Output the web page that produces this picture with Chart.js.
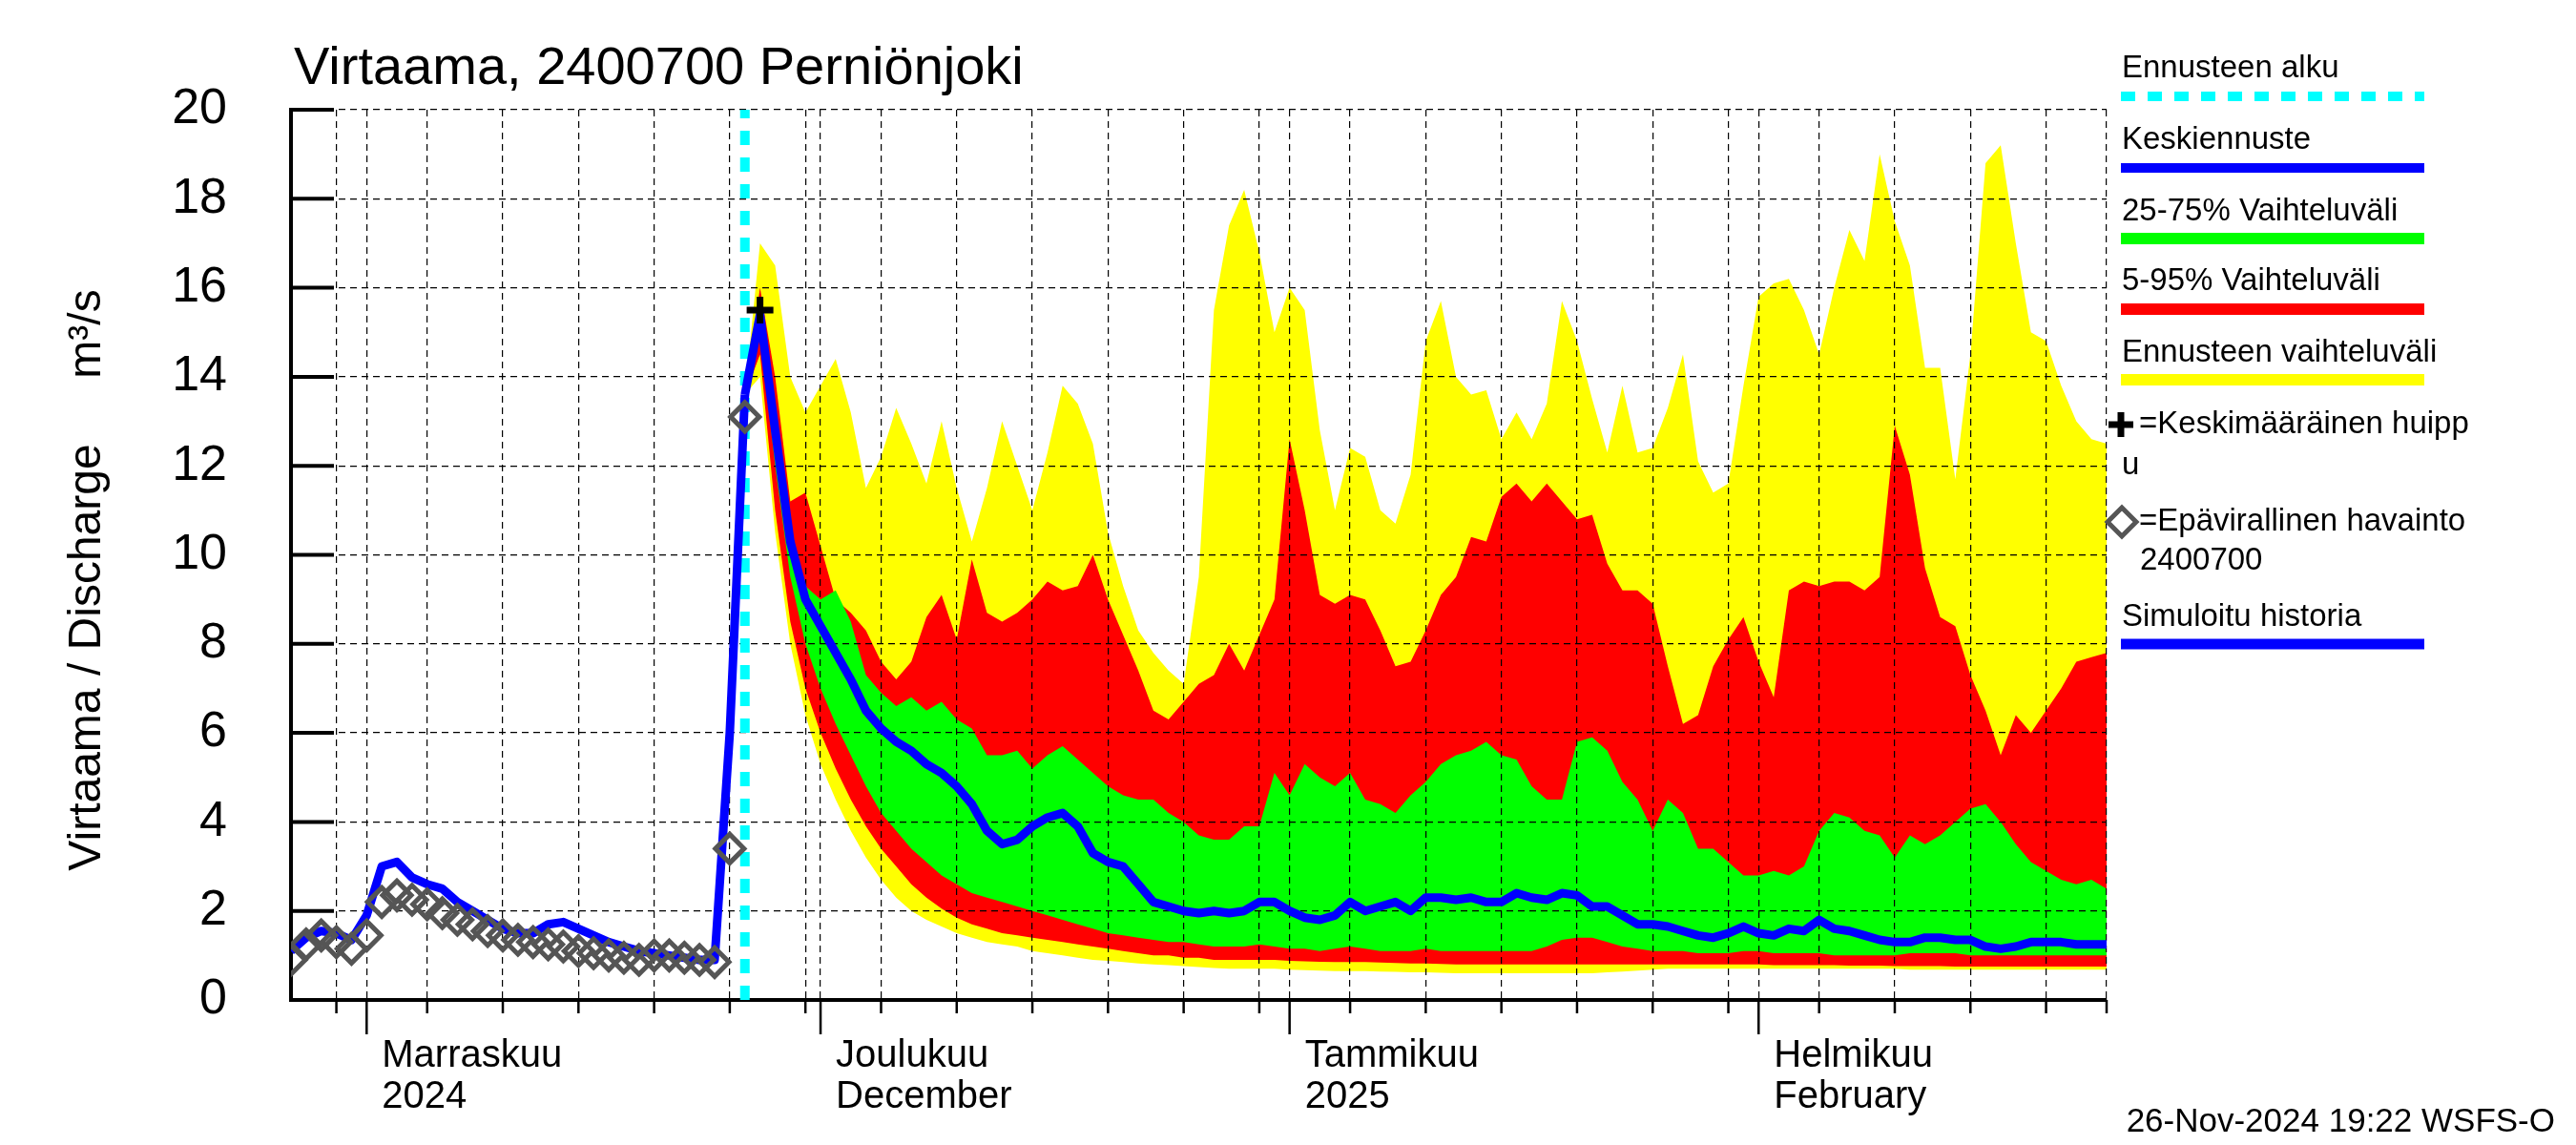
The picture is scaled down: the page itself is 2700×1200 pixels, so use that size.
<!DOCTYPE html>
<html>
<head>
<meta charset="utf-8">
<script src="https://cdn.jsdelivr.net/npm/chart.js@4.4.1/dist/chart.umd.min.js"></script>
<style>
  html, body { margin: 0; padding: 0; background: #fff; }
  canvas { display: block; }
</style>
</head>
<body>
<canvas id="flowChart" width="2700" height="1200"></canvas>
<script>
// --- data (m3/s, one value per day) ---
const histStart = '2024-10-27';
const histValues = [1.1, 1.4, 1.55, 1.5, 1.35, 1.9, 3.0, 3.1, 2.75, 2.6, 2.5, 2.2, 2.0, 1.8, 1.6, 1.5,
  1.5, 1.7, 1.75, 1.6, 1.45, 1.3, 1.2, 1.1, 1.05, 1.0, 0.95, 0.9, 0.9, 6.0, 13.6];
const obsValues = [0.9, 1.25, 1.45, 1.3, 1.15, 1.45, 2.2, 2.35, 2.25, 2.15, 1.95, 1.8, 1.7, 1.55, 1.45, 1.35,
  1.3, 1.25, 1.2, 1.1, 1.05, 1.0, 0.95, 0.9, 1.0, 1.0, 0.95, 0.9, 0.85, 3.4, 13.1];

const fcStart = '2024-11-26';
const fcMean = [13.6,
  15.4, 12.8, 10.3, 9.0, 8.4, 7.8, 7.2, 6.5, 6.1, 5.8,
  5.6, 5.3, 5.1, 4.8, 4.4, 3.8, 3.5, 3.6, 3.9, 4.1,
  4.2, 3.9, 3.3, 3.1, 3.0, 2.6, 2.2, 2.1, 2.0, 1.95,
  2.0, 1.95, 2.0, 2.2, 2.2, 2.0, 1.85, 1.8, 1.9, 2.2,
  2.0, 2.1, 2.2, 2.0, 2.3, 2.3, 2.25, 2.3, 2.2, 2.2,
  2.4, 2.3, 2.25, 2.4, 2.35, 2.1, 2.1, 1.9, 1.7, 1.7,
  1.65, 1.55, 1.45, 1.4, 1.5, 1.65, 1.5, 1.45, 1.6, 1.55,
  1.8, 1.6, 1.55, 1.45, 1.35, 1.3, 1.3, 1.4, 1.4, 1.35,
  1.35, 1.2, 1.15, 1.2, 1.3, 1.3, 1.3, 1.25, 1.25, 1.25];
const fcMax = [13.6,
  17.0, 16.5, 14.0, 13.2, 13.8, 14.4, 13.2, 11.5, 12.2, 13.3,
  12.5, 11.6, 13.0, 11.5, 10.3, 11.5, 13.0, 12.0, 11.0, 12.3,
  13.8, 13.4, 12.5, 10.5, 9.3, 8.3, 7.8, 7.4, 7.1, 9.5,
  15.5, 17.4, 18.2, 16.8, 15.0, 16.0, 15.5, 12.8, 11.0, 12.4,
  12.2, 11.0, 10.7, 11.8, 14.8, 15.7, 14.0, 13.6, 13.7, 12.6,
  13.2, 12.6, 13.4, 15.7, 14.8, 13.5, 12.3, 13.8, 12.3, 12.4,
  13.3, 14.5, 12.1, 11.4, 11.6, 13.8, 15.8, 16.1, 16.2, 15.5,
  14.5, 16.0, 17.3, 16.6, 19.0, 17.5, 16.5, 14.2, 14.2, 11.7,
  14.5, 18.8, 19.2, 17.0, 15.0, 14.8, 13.8, 13.0, 12.6, 12.5];
const fc95 = [13.6,
  16.0, 14.0, 11.2, 11.4, 10.2, 9.0, 8.7, 8.3, 7.6, 7.2,
  7.6, 8.6, 9.1, 8.1, 9.9, 8.7, 8.5, 8.7, 9.0, 9.4,
  9.2, 9.3, 10.0, 9.0, 8.2, 7.4, 6.5, 6.3, 6.7, 7.1,
  7.3, 8.0, 7.4, 8.2, 9.0, 12.6, 11.0, 9.1, 8.9, 9.1,
  9.0, 8.3, 7.5, 7.6, 8.3, 9.1, 9.5, 10.4, 10.3, 11.3,
  11.6, 11.2, 11.6, 11.2, 10.8, 10.9, 9.8, 9.2, 9.2, 8.9,
  7.5, 6.2, 6.4, 7.5, 8.1, 8.6, 7.6, 6.8, 9.2, 9.4,
  9.3, 9.4, 9.4, 9.2, 9.5, 12.9, 11.8, 9.7, 8.6, 8.4,
  7.3, 6.5, 5.5, 6.4, 6.0, 6.5, 7.0, 7.6, 7.7, 7.8];
const fc75 = [13.6,
  15.6, 12.5, 10.0, 9.3, 9.0, 9.2, 8.5, 7.3, 6.9, 6.6,
  6.8, 6.5, 6.7, 6.3, 6.1, 5.5, 5.5, 5.6, 5.2, 5.5,
  5.7, 5.4, 5.1, 4.8, 4.6, 4.5, 4.5, 4.2, 4.0, 3.7,
  3.6, 3.6, 3.9, 3.9, 5.1, 4.6, 5.3, 5.0, 4.8, 5.1,
  4.5, 4.4, 4.2, 4.6, 4.9, 5.3, 5.5, 5.6, 5.8, 5.5,
  5.4, 4.8, 4.5, 4.5, 5.8, 5.9, 5.6, 4.9, 4.5, 3.8,
  4.5, 4.2, 3.4, 3.4, 3.1, 2.8, 2.8, 2.9, 2.8, 3.0,
  3.8, 4.2, 4.1, 3.8, 3.7, 3.2, 3.7, 3.5, 3.7, 4.0,
  4.3, 4.4, 4.0, 3.5, 3.1, 2.9, 2.7, 2.6, 2.7, 2.5];
const fc25 = [13.6,
  15.0, 12.0, 9.5, 8.0, 7.0, 6.2, 5.5, 4.8, 4.2, 3.8,
  3.4, 3.1, 2.8, 2.6, 2.4, 2.3, 2.2, 2.1, 2.0, 1.9,
  1.8, 1.7, 1.6, 1.5, 1.45, 1.4, 1.35, 1.3, 1.3, 1.25,
  1.2, 1.2, 1.2, 1.25, 1.2, 1.15, 1.15, 1.1, 1.15, 1.2,
  1.15, 1.1, 1.1, 1.1, 1.15, 1.1, 1.1, 1.1, 1.1, 1.1,
  1.1, 1.1, 1.2, 1.35, 1.4, 1.4, 1.3, 1.2, 1.15, 1.1,
  1.1, 1.1, 1.05, 1.05, 1.05, 1.1, 1.1, 1.05, 1.05, 1.05,
  1.05, 1.0, 1.0, 1.0, 1.0, 1.0, 1.05, 1.05, 1.05, 1.05,
  1.0, 1.0, 1.0, 1.0, 1.0, 1.0, 1.0, 1.0, 1.0, 1.0];
const fc05 = [13.6,
  14.5, 11.0, 8.5, 7.0, 6.0, 5.2, 4.5, 3.9, 3.4, 3.0,
  2.6, 2.3, 2.05, 1.85, 1.7, 1.6, 1.5, 1.45, 1.4, 1.35,
  1.3, 1.25, 1.2, 1.15, 1.1, 1.05, 1.0, 1.0, 0.95, 0.95,
  0.9, 0.9, 0.9, 0.9, 0.9, 0.88, 0.87, 0.86, 0.85, 0.85,
  0.85, 0.84, 0.83, 0.82, 0.82, 0.81, 0.8, 0.8, 0.8, 0.8,
  0.8, 0.8, 0.8, 0.8, 0.8, 0.8, 0.8, 0.8, 0.8, 0.8,
  0.8, 0.8, 0.8, 0.8, 0.8, 0.8, 0.8, 0.78, 0.78, 0.78,
  0.78, 0.78, 0.77, 0.77, 0.77, 0.76, 0.76, 0.76, 0.76, 0.75,
  0.75, 0.75, 0.75, 0.75, 0.75, 0.75, 0.75, 0.75, 0.75, 0.75];
const fcMin = [13.6,
  14.0, 10.5, 8.0, 6.4, 5.3, 4.5, 3.8, 3.2, 2.7, 2.3,
  2.0, 1.8, 1.65, 1.5, 1.4, 1.3, 1.25, 1.2, 1.1, 1.05,
  1.0, 0.95, 0.9, 0.88, 0.85, 0.82, 0.8, 0.78, 0.76, 0.74,
  0.72, 0.7, 0.7, 0.7, 0.7, 0.68, 0.67, 0.66, 0.65, 0.65,
  0.65, 0.64, 0.63, 0.62, 0.62, 0.61, 0.6, 0.6, 0.6, 0.6,
  0.6, 0.6, 0.6, 0.6, 0.6, 0.6, 0.62, 0.64, 0.66, 0.68,
  0.7, 0.7, 0.7, 0.7, 0.7, 0.7, 0.7, 0.7, 0.7, 0.7,
  0.7, 0.7, 0.7, 0.7, 0.7, 0.7, 0.68, 0.68, 0.68, 0.68,
  0.68, 0.68, 0.68, 0.68, 0.68, 0.68, 0.68, 0.68, 0.68, 0.68];

const peakDate = '2024-11-27';
const peakValue = 15.5;

// x axis: dates, y axis: 0..20 step 2
const axisStart = '2024-10-27';
const axisEnd = '2025-02-24';
const gridDates = ['2024-10-30', '2024-11-01', '2024-11-05', '2024-11-10', '2024-11-15', '2024-11-20',
  '2024-11-25', '2024-11-30', '2024-12-01', '2024-12-05', '2024-12-10', '2024-12-15', '2024-12-20',
  '2024-12-25', '2024-12-30', '2025-01-01', '2025-01-05', '2025-01-10', '2025-01-15', '2025-01-20',
  '2025-01-25', '2025-01-30', '2025-02-01', '2025-02-05', '2025-02-10', '2025-02-15', '2025-02-20',
  '2025-02-24'];
const monthDates = ['2024-11-01', '2024-12-01', '2025-01-01', '2025-02-01'];
const monthLabels = [['Marraskuu', '2024'], ['Joulukuu', 'December'], ['Tammikuu', '2025'], ['Helmikuu', 'February']];

const FONT = '"Liberation Sans", Arial, sans-serif';
Chart.defaults.font.family = FONT;

function dayOf(s) {
  return (Date.parse(s + 'T00:00:00Z') - Date.parse('2024-11-01T00:00:00Z')) / 86400000;
}
function series(start, values) {
  const d0 = dayOf(start);
  return values.map((v, i) => ({ x: d0 + i, y: v }));
}

const gridDays = gridDates.map(dayOf);
const monthDays = monthDates.map(dayOf);
const fcDay = dayOf(fcStart);

function band(values, color, fill, order) {
  return {
    data: series(fcStart, values),
    borderWidth: 0,
    borderColor: 'rgba(0,0,0,0)',
    backgroundColor: color,
    pointRadius: 0,
    fill: fill,
    order: order
  };
}

const decorations = {
  id: 'decorations',
  afterDraw(chart) {
    const ctx = chart.ctx;
    const xs = chart.scales.x;
    const ys = chart.scales.y;
    const area = chart.chartArea;
    ctx.save();

    // inner y ticks
    ctx.strokeStyle = '#000';
    ctx.lineWidth = 4;
    ys.ticks.forEach(t => {
      const y = ys.getPixelForValue(t.value);
      ctx.beginPath();
      ctx.moveTo(area.left, y);
      ctx.lineTo(area.left + 45, y);
      ctx.stroke();
    });

    // x ticks below the axis
    ctx.lineWidth = 2.5;
    gridDays.forEach(d => {
      const x = xs.getPixelForValue(d);
      const len = monthDays.includes(d) ? 36 : 14;
      ctx.beginPath();
      ctx.moveTo(x, area.bottom);
      ctx.lineTo(x, area.bottom + len);
      ctx.stroke();
    });

    ctx.fillStyle = '#000';
    ctx.textBaseline = 'middle';
    ctx.textAlign = 'left';

    // month labels
    ctx.font = '40px ' + FONT;
    monthDays.forEach((d, i) => {
      const x = xs.getPixelForValue(d) + 16;
      ctx.fillText(monthLabels[i][0], x, 1107);
      ctx.fillText(monthLabels[i][1], x, 1150);
    });

    // title
    ctx.font = '56px ' + FONT;
    ctx.textBaseline = 'alphabetic';
    ctx.fillText('Virtaama, 2400700 Perniönjoki', 308, 88);

    // y axis title
    ctx.font = '48px ' + FONT;
    ctx.textBaseline = 'middle';
    ctx.textAlign = 'center';
    [['Virtaama / Discharge', 689], ['m³/s', 350]].forEach(([txt, yc]) => {
      ctx.save();
      ctx.translate(92, yc);
      ctx.rotate(-Math.PI / 2);
      ctx.fillText(txt, 0, 0);
      ctx.restore();
    });

    // legend
    const lx0 = 2223, lx1 = 2541;
    ctx.textAlign = 'left';
    ctx.font = '33px ' + FONT;
    const legendLine = (y, color, width, dash) => {
      ctx.save();
      ctx.strokeStyle = color;
      ctx.lineWidth = width;
      ctx.setLineDash(dash || []);
      ctx.beginPath();
      ctx.moveTo(lx0, y);
      ctx.lineTo(lx1, y);
      ctx.stroke();
      ctx.restore();
    };
    ctx.fillText('Ennusteen alku', 2224, 72);
    legendLine(101, '#00ffff', 10, [15, 13]);
    ctx.fillText('Keskiennuste', 2224, 147);
    legendLine(176, '#0000ff', 10);
    ctx.fillText('25-75% Vaihteluväli', 2224, 222);
    legendLine(250, '#00ff00', 12);
    ctx.fillText('5-95% Vaihteluväli', 2224, 295);
    legendLine(324, '#ff0000', 12);
    ctx.fillText('Ennusteen vaihteluväli', 2224, 370);
    legendLine(398, '#ffff00', 12);

    // cross symbol
    ctx.save();
    ctx.strokeStyle = '#000';
    ctx.lineWidth = 7;
    ctx.beginPath();
    ctx.moveTo(2210, 445); ctx.lineTo(2236, 445);
    ctx.moveTo(2223, 432); ctx.lineTo(2223, 458);
    ctx.stroke();
    ctx.restore();
    ctx.fillText('=Keskimääräinen huipp', 2242, 445);
    ctx.fillText('u', 2224, 488);

    // diamond symbol
    ctx.save();
    ctx.strokeStyle = '#555555';
    ctx.lineWidth = 5;
    ctx.beginPath();
    ctx.moveTo(2224, 532); ctx.lineTo(2239, 547); ctx.lineTo(2224, 562); ctx.lineTo(2209, 547);
    ctx.closePath();
    ctx.stroke();
    ctx.restore();
    ctx.fillText('=Epävirallinen havainto', 2242, 547);
    ctx.fillText('2400700', 2243, 588);
    ctx.fillText('Simuloitu historia', 2224, 647);
    legendLine(675, '#0000ff', 11);

    // timestamp
    ctx.font = '35px ' + FONT;
    ctx.textAlign = 'right';
    ctx.fillText('26-Nov-2024 19:22 WSFS-O', 2678, 1176);

    ctx.restore();
  }
};

const chart = new Chart(document.getElementById('flowChart').getContext('2d'), {
  type: 'line',
  data: {
    datasets: [
      { // observations
        data: series(histStart, obsValues),
        showLine: false,
        pointStyle: 'rectRot',
        pointRadius: 15,
        pointBorderWidth: 5,
        pointBorderColor: '#555555',
        pointBackgroundColor: 'rgba(0,0,0,0)',
        order: 0
      },
      { // mean peak
        data: [{ x: dayOf(peakDate), y: peakValue }],
        showLine: false,
        pointStyle: 'cross',
        pointRadius: 14,
        pointBorderWidth: 7,
        pointBorderColor: '#000',
        order: 0
      },
      { // simulated history
        data: series(histStart, histValues),
        borderColor: '#0000ff',
        borderWidth: 9,
        borderJoinStyle: 'round',
        pointRadius: 0,
        fill: false,
        order: 1
      },
      { // mean forecast
        data: series(fcStart, fcMean),
        borderColor: '#0000ff',
        borderWidth: 9,
        borderJoinStyle: 'round',
        pointRadius: 0,
        fill: false,
        order: 1
      },
      { // forecast start
        data: [{ x: fcDay, y: 0 }, { x: fcDay, y: 20 }],
        borderColor: '#00ffff',
        borderWidth: 10,
        borderDash: [15, 13],
        pointRadius: 0,
        fill: false,
        order: 2
      },
      band(fc75, '#00ff00', '+1', 3),
      band(fc25, 'rgba(0,0,0,0)', false, 4),
      band(fc95, '#ff0000', '+1', 5),
      band(fc05, 'rgba(0,0,0,0)', false, 6),
      band(fcMax, '#ffff00', '+1', 7),
      band(fcMin, 'rgba(0,0,0,0)', false, 8)
    ]
  },
  options: {
    responsive: false,
    devicePixelRatio: 1,
    animation: false,
    layout: { padding: { top: 115, right: 492, left: 0, bottom: 0 } },
    elements: { line: { tension: 0 } },
    scales: {
      x: {
        type: 'linear',
        min: dayOf(axisStart),
        max: dayOf(axisEnd),
        afterBuildTicks: s => { s.ticks = gridDays.map(v => ({ value: v })); },
        afterFit: s => { s.height = 152; },
        ticks: { display: false },
        grid: { color: '#000', lineWidth: 1.2, drawTicks: false },
        border: { display: true, color: '#000', width: 4, dash: [7, 5] }
      },
      y: {
        min: 0,
        max: 20,
        afterFit: s => { s.width = 305; },
        ticks: { stepSize: 2, color: '#000', font: { size: 52 }, padding: 67 },
        grid: { color: '#000', lineWidth: 1.2, drawTicks: false },
        border: { display: true, color: '#000', width: 4, dash: [7, 5] }
      }
    },
    plugins: {
      legend: { display: false },
      tooltip: { enabled: false },
      filler: { propagate: false, drawTime: 'beforeDraw' }
    }
  },
  plugins: [decorations]
});
</script>
</body>
</html>
